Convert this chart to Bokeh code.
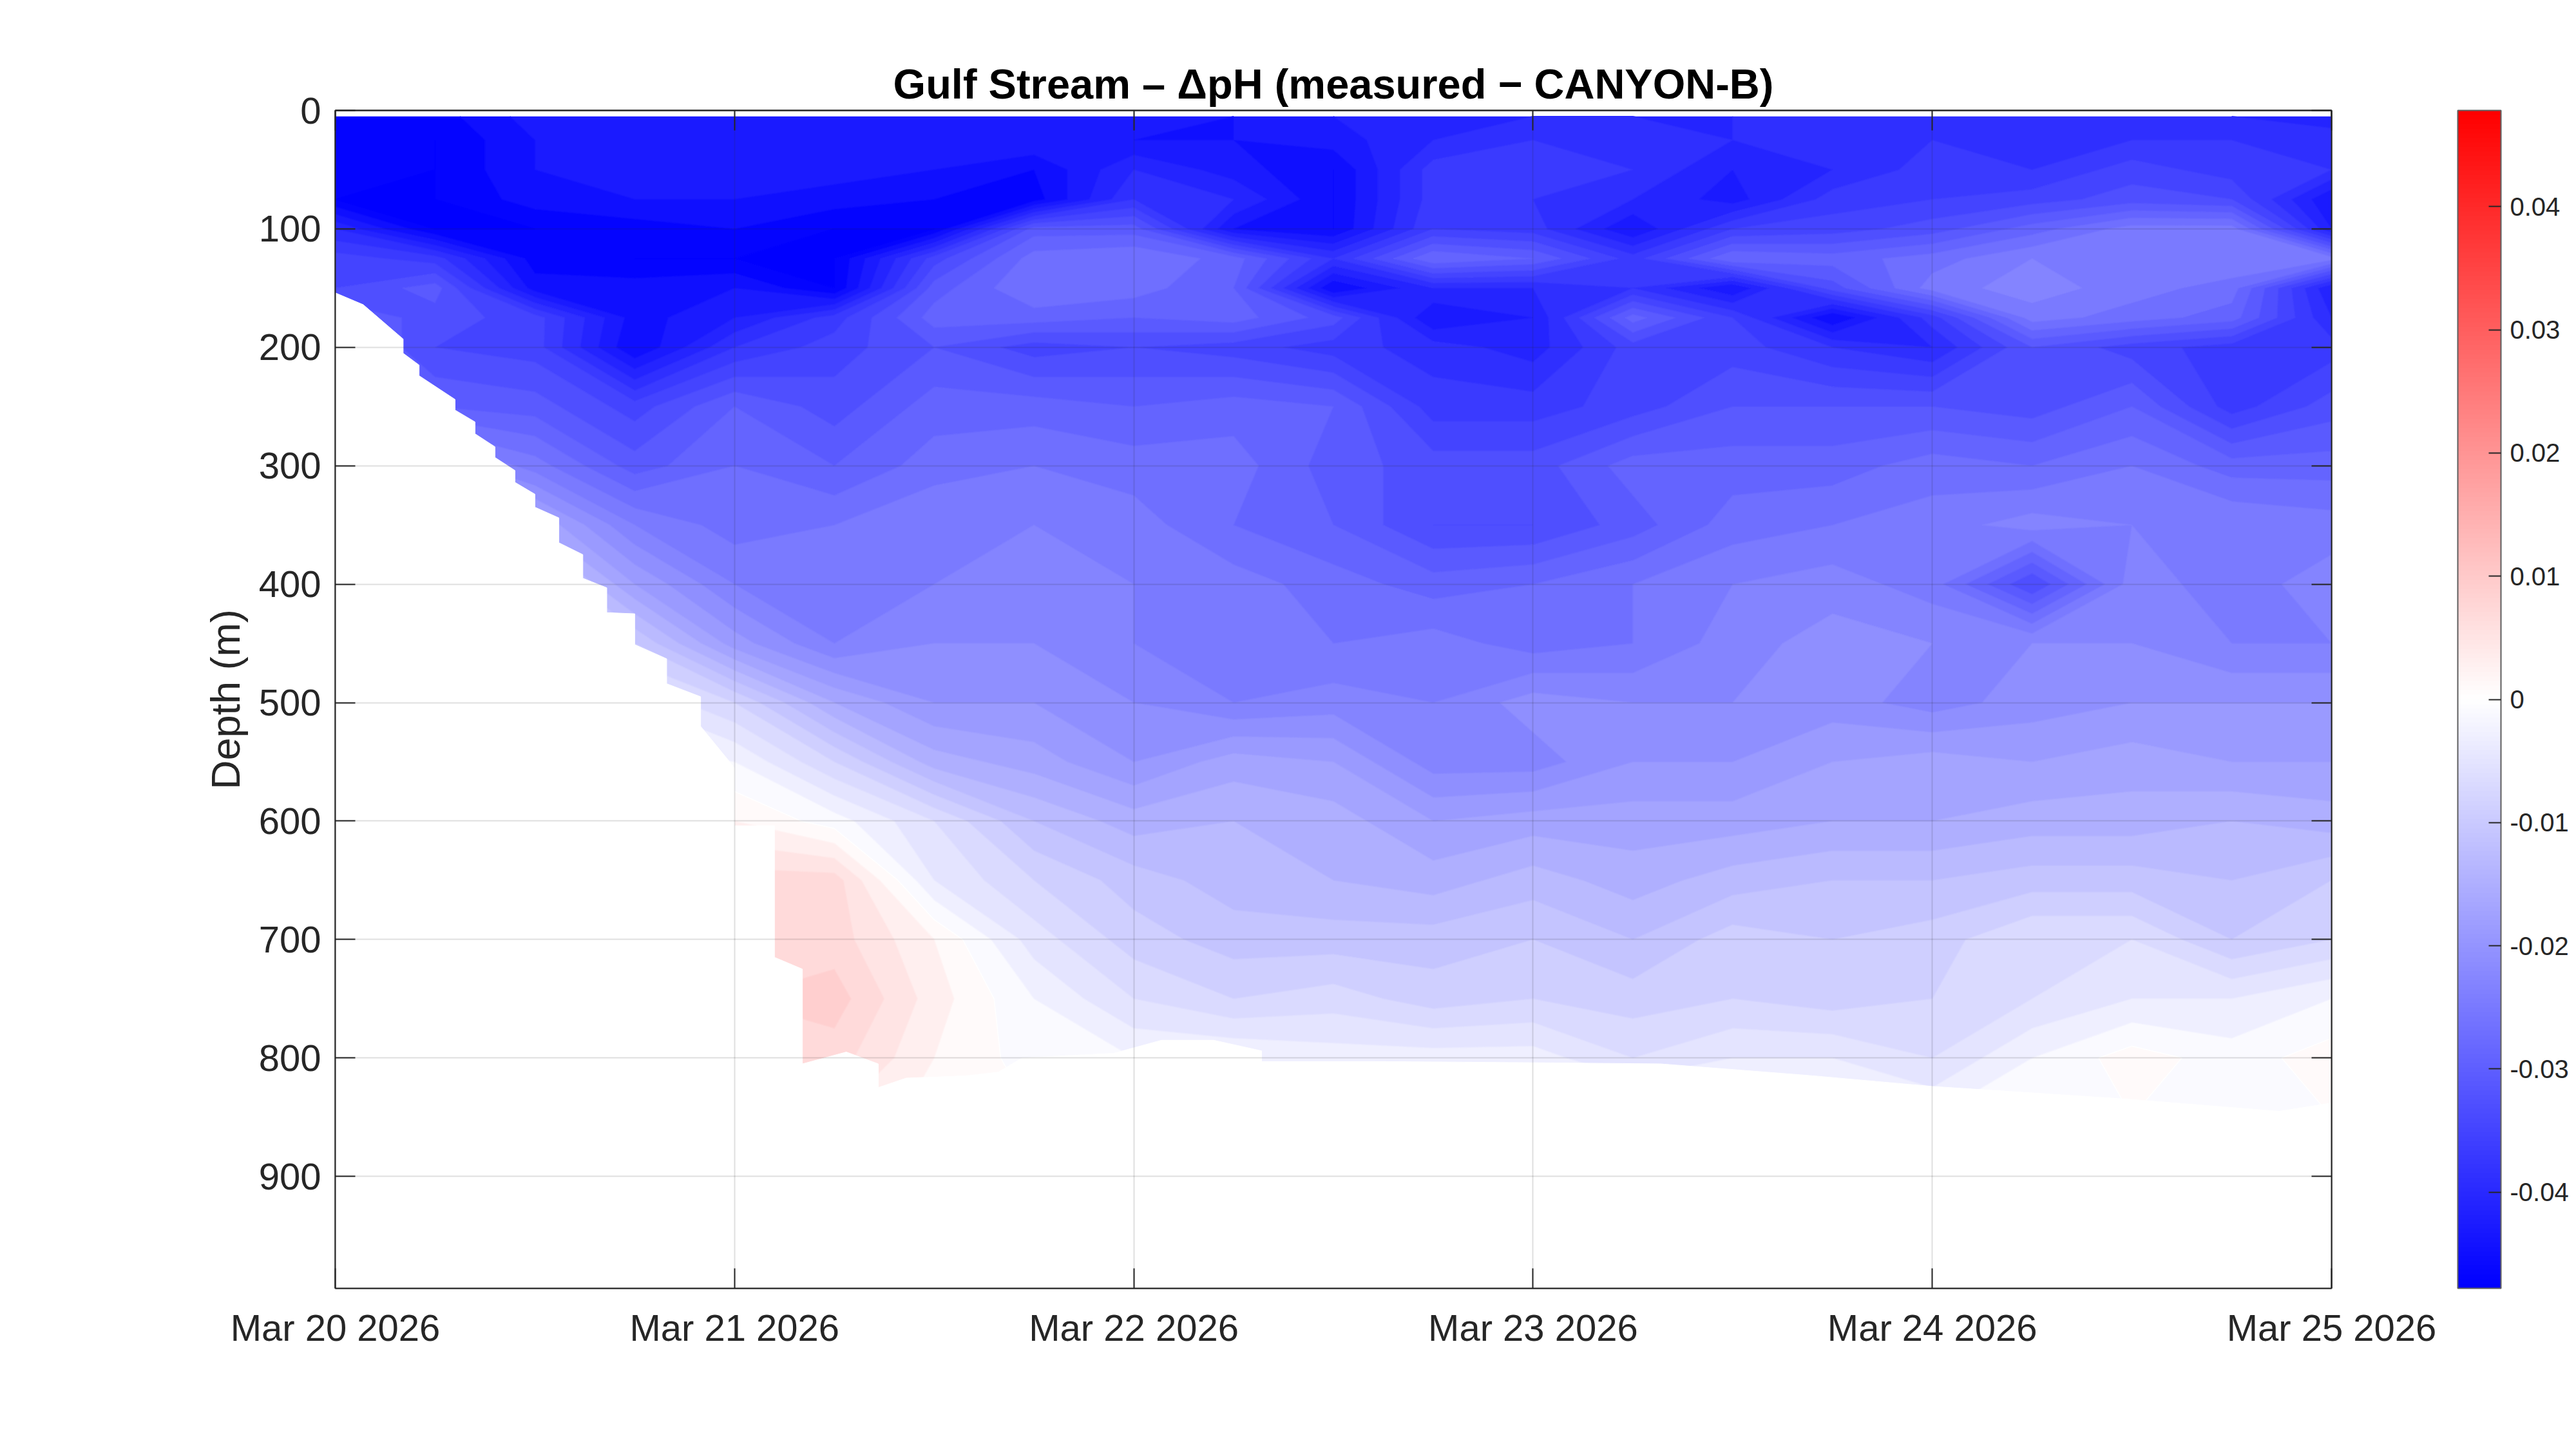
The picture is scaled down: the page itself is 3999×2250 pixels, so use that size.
import numpy as np
from bokeh.plotting import figure
from bokeh.models import (Range1d, FixedTicker, LinearAxis, DatetimeAxis,
                          DatetimeTickFormatter, LinearColorMapper, ColorBar)
from bokeh.embed import file_html
from bokeh.resources import INLINE

# ---------------- data ----------------
title_text = "Gulf Stream \u2013 \u0394pH (measured \u2212 CANYON-B)"
y_label = "Depth (m)"

grid_day = [20.0, 20.25, 20.5, 20.75, 21.0, 21.25, 21.5, 21.75, 22.0, 22.25, 22.5,
            22.75, 23.0, 23.25, 23.5, 23.75, 24.0, 24.25, 24.5, 24.75, 25.0]
grid_depth = [5, 25, 50, 75, 100, 125, 150, 175, 200, 250, 300, 350, 400, 450,
              500, 550, 600, 650, 700, 750, 800, 850]

d005 = [-0.046, -0.047, -0.043, -0.042, -0.043, -0.042, -0.042, -0.042, -0.043, -0.044, -0.042, -0.040, -0.040, -0.040, -0.040, -0.038, -0.038, -0.038, -0.038, -0.040, -0.041]
d025 = [-0.046, -0.048, -0.044, -0.043, -0.044, -0.043, -0.043, -0.042, -0.044, -0.044, -0.043, -0.040, -0.038, -0.038, -0.040, -0.039, -0.038, -0.040, -0.038, -0.038, -0.039]
d050 = [-0.047, -0.048, -0.044, -0.043, -0.043, -0.043, -0.044, -0.046, -0.040, -0.043, -0.046, -0.037, -0.037, -0.038, -0.042, -0.040, -0.037, -0.038, -0.035, -0.037, -0.038]
d075 = [-0.048, -0.048, -0.045, -0.044, -0.044, -0.045, -0.046, -0.047, -0.038, -0.040, -0.046, -0.037, -0.038, -0.040, -0.043, -0.037, -0.036, -0.035, -0.033, -0.034, -0.044]
d100 = [-0.040, -0.048, -0.048, -0.047, -0.046, -0.048, -0.048, -0.031, -0.031, -0.044, -0.046, -0.036, -0.037, -0.044, -0.036, -0.035, -0.033, -0.029, -0.025, -0.025, -0.042]
d125 = [-0.035, -0.037, -0.047, -0.048, -0.048, -0.048, -0.035, -0.027, -0.026, -0.029, -0.038, -0.028, -0.030, -0.037, -0.028, -0.029, -0.027, -0.024, -0.024, -0.024, -0.025]
d150 = [-0.034, -0.031, -0.045, -0.045, -0.044, -0.048, -0.031, -0.026, -0.027, -0.030, -0.046, -0.040, -0.040, -0.038, -0.044, -0.033, -0.025, -0.023, -0.025, -0.027, -0.042]
d175 = [-0.030, -0.033, -0.035, -0.045, -0.042, -0.037, -0.029, -0.029, -0.030, -0.029, -0.033, -0.044, -0.042, -0.029, -0.036, -0.046, -0.037, -0.025, -0.027, -0.029, -0.040]
d200 = [-0.028, -0.034, -0.035, -0.046, -0.038, -0.035, -0.032, -0.035, -0.034, -0.035, -0.037, -0.039, -0.041, -0.035, -0.035, -0.038, -0.040, -0.032, -0.035, -0.037, -0.037]
d250 = [-0.022, -0.030, -0.031, -0.035, -0.030, -0.033, -0.029, -0.029, -0.030, -0.029, -0.030, -0.037, -0.037, -0.035, -0.032, -0.032, -0.032, -0.033, -0.030, -0.037, -0.033]
d300 = [-0.015, -0.020, -0.025, -0.031, -0.028, -0.030, -0.027, -0.026, -0.027, -0.027, -0.031, -0.033, -0.033, -0.029, -0.029, -0.029, -0.027, -0.028, -0.026, -0.029, -0.029]
d350 = [-0.010, -0.012, -0.016, -0.024, -0.027, -0.026, -0.024, -0.024, -0.025, -0.028, -0.030, -0.034, -0.034, -0.031, -0.027, -0.026, -0.025, -0.023, -0.024, -0.024, -0.025]
d400 = [-0.006, -0.006, -0.008, -0.018, -0.024, -0.025, -0.024, -0.023, -0.024, -0.025, -0.027, -0.029, -0.028, -0.026, -0.024, -0.023, -0.025, -0.034, -0.023, -0.025, -0.023]
d450 = [-0.003, -0.003, -0.004, -0.010, -0.019, -0.024, -0.022, -0.022, -0.024, -0.025, -0.026, -0.025, -0.027, -0.026, -0.023, -0.021, -0.022, -0.022, -0.022, -0.024, -0.024]
d500 = [0.000, 0.000, -0.002, -0.004, -0.008, -0.016, -0.020, -0.020, -0.022, -0.024, -0.023, -0.024, -0.021, -0.022, -0.022, -0.021, -0.023, -0.021, -0.020, -0.020, -0.020]
d550 = [0.000, 0.000, 0.000, -0.001, -0.002, -0.008, -0.015, -0.017, -0.020, -0.017, -0.018, -0.023, -0.023, -0.020, -0.020, -0.018, -0.017, -0.018, -0.017, -0.018, -0.018]
d600 = [0.000, 0.000, 0.000, 0.001, 0.002, -0.001, -0.006, -0.012, -0.015, -0.014, -0.015, -0.018, -0.017, -0.017, -0.017, -0.016, -0.016, -0.015, -0.015, -0.014, -0.015]
d650 = [0.000, 0.000, 0.000, 0.003, 0.007, 0.007, -0.004, -0.008, -0.011, -0.013, -0.014, -0.015, -0.013, -0.015, -0.013, -0.012, -0.012, -0.011, -0.011, -0.012, -0.010]
d700 = [0.000, 0.000, 0.000, 0.004, 0.008, 0.007, 0.002, -0.005, -0.009, -0.011, -0.011, -0.011, -0.010, -0.012, -0.009, -0.010, -0.009, -0.006, -0.006, -0.010, -0.008]
d750 = [0.000, 0.000, 0.000, 0.004, 0.008, 0.009, 0.003, -0.002, -0.006, -0.008, -0.007, -0.009, -0.008, -0.009, -0.008, -0.009, -0.008, -0.006, -0.004, -0.004, -0.002]
d800 = [0.000, 0.000, 0.000, 0.003, 0.006, 0.007, 0.002, -0.001, -0.002, -0.002, -0.003, -0.003, -0.003, -0.006, -0.004, -0.004, -0.006, -0.002, 0.001, -0.001, 0.001]
d850 = [0.000, 0.000, 0.000, 0.002, 0.004, 0.004, 0.001, 0.000, 0.000, 0.000, 0.000, 0.000, 0.000, 0.000, -0.001, -0.001, -0.002, -0.001, 0.000, -0.001, 0.000]

# edge of the sampled section (below it there is no data)
gap_day = [20.0, 20.07, 20.17, 20.17, 20.21, 20.21, 20.30, 20.30, 20.35, 20.35,
           20.40, 20.40, 20.45, 20.45, 20.50, 20.50, 20.56, 20.56, 20.62, 20.62,
           20.68, 20.68, 20.75, 20.75, 20.83, 20.83, 20.915, 20.915, 21.0, 21.0,
           21.10, 21.10, 21.17, 21.17, 21.28, 21.36, 21.36, 21.43, 21.58, 21.66,
           21.72, 21.95, 22.07, 22.20, 22.32, 22.32, 22.6, 23.0, 23.32, 23.7,
           24.0, 24.5, 24.87, 25.0]
gap_depth = [154, 164, 193, 205, 215, 224, 244, 253, 263, 273,
             284, 293, 304, 314, 324, 335, 344, 365, 375, 395,
             403, 424, 425, 451, 463, 484, 495, 520, 555, 604,
             604, 715, 725, 805, 795, 805, 825, 817, 815, 812,
             800, 796, 785, 785, 794, 803, 803, 804, 805, 815,
             824, 835, 845, 838]

xtick_days = [20, 21, 22, 23, 24, 25]
ytick_depths = [0, 100, 200, 300, 400, 500, 600, 700, 800, 900]
cb_ticks = [-0.04, -0.03, -0.02, -0.01, 0.0, 0.01, 0.02, 0.03, 0.04]
cb_labels = ["-0.04", "-0.03", "-0.02", "-0.01", "0", "0.01", "0.02", "0.03", "0.04"]
c_lim = 0.0478
depth_max = 994.5

# ---------------- helpers ----------------
DAY_MS = 86400000.0
T0 = float(np.datetime64("2026-03-20T00:00:00", "ms").astype(np.int64))


def to_ms(days):
    return T0 + (np.asarray(days, dtype=float) - 20.0) * DAY_MS


def cmap(v):
    f = float(np.clip(v / c_lim, -1.0, 1.0))
    if f < 0:
        r = g = 255 * (1 + f)
        b = 255
    else:
        r = 255
        g = b = 255 * (1 - f)
    return "#%02x%02x%02x" % (int(round(r)), int(round(g)), int(round(b)))


FONT = "Liberation Sans"
INK = "#262626"

Z = np.array([d005, d025, d050, d075, d100, d125, d150, d175, d200, d250, d300,
              d350, d400, d450, d500, d550, d600, d650, d700, d750, d800, d850])
X, Y = np.meshgrid(to_ms(grid_day), np.asarray(grid_depth, dtype=float))

levels = np.round(np.arange(-0.05, 0.05 + 1e-9, 0.002), 4)
fill_cols = [cmap(0.5 * (levels[i] + levels[i + 1])) for i in range(len(levels) - 1)]
line_cols = [cmap(l) for l in levels]

# ---------------- figure ----------------
p = figure(width=3999, height=2250, x_axis_type="datetime",
           output_backend="svg", toolbar_location=None,
           x_range=Range1d(float(to_ms(20.0)), float(to_ms(25.0))),
           y_range=Range1d(depth_max, 0),
           min_border_left=520, min_border_right=380,
           min_border_top=171, min_border_bottom=250)
p.background_fill_color = "white"
p.border_fill_color = "white"
p.outline_line_color = INK
p.outline_line_width = 2

p.contour(X, Y, Z, levels, fill_color=fill_cols, line_color=line_cols, line_width=1.5)

mask_x = list(to_ms(gap_day)) + [float(to_ms(25.0)), float(to_ms(20.0))]
mask_y = list(gap_depth) + [depth_max + 10, depth_max + 10]
p.patch(mask_x, mask_y, fill_color="white", line_color="white", line_width=1)

xticker = FixedTicker(ticks=[float(t) for t in to_ms(xtick_days)])
yticker = FixedTicker(ticks=ytick_depths)
fmt = "%b %d %Y"
xfmt = DatetimeTickFormatter(milliseconds=fmt, seconds=fmt, minsec=fmt, minutes=fmt,
                             hourmin=fmt, hours=fmt, days=fmt, months=fmt, years=fmt)


def style_axis(ax, labels=True):
    ax.axis_line_color = INK
    ax.axis_line_width = 2
    ax.major_tick_line_color = INK
    ax.major_tick_line_width = 2
    ax.major_tick_in = 31
    ax.major_tick_out = 0
    ax.minor_tick_line_color = None
    ax.major_label_text_font = FONT
    ax.major_label_text_color = INK
    if labels:
        ax.major_label_text_font_size = "58px"
    else:
        ax.major_label_text_font_size = "0px"
        ax.major_label_text_alpha = 0
        ax.major_label_standoff = 0


bx = p.below[0]
bx.ticker = xticker
bx.formatter = xfmt
style_axis(bx)
bx.major_label_standoff = 28

ly = p.left[0]
ly.ticker = yticker
style_axis(ly)
ly.major_label_standoff = 22
ly.axis_label = y_label
ly.axis_label_text_font = FONT
ly.axis_label_text_font_size = "63px"
ly.axis_label_text_font_style = "normal"
ly.axis_label_text_color = INK
ly.axis_label_standoff = 14

ta = DatetimeAxis(ticker=xticker, formatter=xfmt)
style_axis(ta, labels=False)
p.add_layout(ta, "above")

ra = LinearAxis(ticker=yticker)
style_axis(ra, labels=False)
p.add_layout(ra, "right")

for g, tk in ((p.xgrid[0], xticker), (p.ygrid[0], yticker)):
    g.ticker = tk
    g.grid_line_color = INK
    g.grid_line_alpha = 0.15
    g.grid_line_width = 2
    g.level = "overlay"

p.title.text = title_text
p.title.align = "center"
p.title.text_font = FONT
p.title.text_font_size = "65px"
p.title.text_font_style = "bold"
p.title.text_color = "#000000"
p.title.standoff = 10

palette = [cmap(v) for v in np.linspace(-c_lim, c_lim, 256)]
mapper = LinearColorMapper(palette=palette, low=-c_lim, high=c_lim)
cb = ColorBar(color_mapper=mapper, ticker=FixedTicker(ticks=cb_ticks),
              major_label_overrides=dict(zip(cb_ticks, cb_labels)),
              width=67, height=1829, location=(3815 - 520, 0),
              padding=0, margin=0,
              bar_line_color="#5e5e5e", bar_line_width=2,
              major_tick_in=19, major_tick_out=0,
              major_tick_line_color=INK, major_tick_line_width=2,
              minor_tick_line_color=None,
              label_standoff=14,
              major_label_text_font=FONT, major_label_text_font_size="40px",
              major_label_text_color=INK,
              background_fill_color=None, border_line_color=None)
p.add_layout(cb, "center")

with open("out.html", "w") as fh:
    fh.write(file_html(p, INLINE))
